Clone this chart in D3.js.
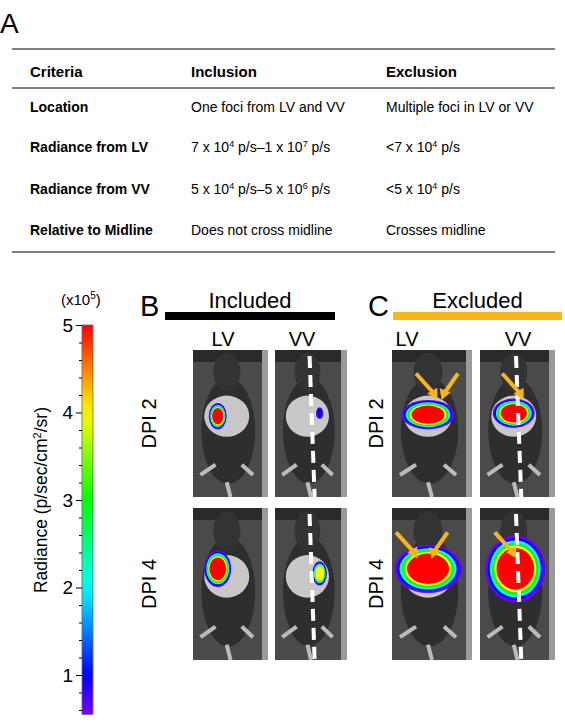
<!DOCTYPE html>
<html><head><meta charset="utf-8">
<script src="https://cdn.jsdelivr.net/npm/d3@7"></script>
<style>body{margin:0;background:#fff}svg{font-family:Arial,"Liberation Sans",sans-serif}</style>
</head><body><svg id="c" width="565" height="728"></svg>
<script>
const tableHeader = ["Criteria","Inclusion","Exclusion"];
const tableRows = [
  ["Location","One foci from LV and VV","Multiple foci in LV or VV"],
  ["Radiance from LV","7 x 10^4 p/s–1 x 10^7 p/s","<7 x 10^4 p/s"],
  ["Radiance from VV","5 x 10^4 p/s–5 x 10^6 p/s","<5 x 10^4 p/s"],
  ["Relative to Midline","Does not cross midline","Crosses midline"]
];
const colorTicks = [1,2,3,4,5];
const colorDomain = [0.55,1,2,3,4,5];
const colorRange = ["#7a00ff","#0000ff","#00ffff","#00ff00","#ffff00","#ff0000"];
const panelCols = ["LV","VV"];
const panelRows = ["DPI 2","DPI 4"];
const blobs = [
  ["B",0,0,0.33,0.45,0.12,0.09,5],
  ["B",0,1,0.62,0.43,0.05,0.04,1.1],
  ["B",1,0,0.33,0.40,0.18,0.12,5],
  ["B",1,1,0.62,0.43,0.1,0.08,4.5],
  ["C",0,0,0.45,0.44,0.33,0.1,5],
  ["C",0,1,0.45,0.43,0.28,0.1,5],
  ["C",1,0,0.45,0.40,0.42,0.16,5],
  ["C",1,1,0.47,0.40,0.4,0.22,5]
];
const arrows = [["C",0,0,[0.35,0.75]],["C",0,1,[0.35]],["C",1,0,[0.1,0.62]],["C",1,1,[0.25]]];

const svg = d3.select("#c");
svg.append("text").attr("x",0).attr("y",33).attr("font-size",28).text("A");
const tx = [30,191,386];
const tl = svg.append("g");
[49,88,252].forEach(y=>tl.append("line").attr("x1",12).attr("x2",555).attr("y1",y).attr("y2",y).attr("stroke","#000").attr("stroke-width",1));
tableHeader.forEach((h,i)=>tl.append("text").attr("x",tx[i]).attr("y",77).attr("font-size",15).attr("font-weight","bold").text(h));
const ry=[112,152,194,235];
function sup(t,s){
  const parts = s.split(/10\^(\d)/);
  parts.forEach((p,k)=>{
    if(k%2===0){ t.append("tspan").attr("dy",k>0?5:0).text(p+(k<parts.length-1?"10":"")); }
    else t.append("tspan").attr("dy",-5).attr("font-size",9).text(p);
  });
}
tableRows.forEach((r,j)=>{
  tl.append("text").attr("x",tx[0]).attr("y",ry[j]).attr("font-size",14).attr("font-weight","bold").text(r[0]);
  [1,2].forEach(i=>{const t=tl.append("text").attr("x",tx[i]).attr("y",ry[j]).attr("font-size",14); sup(t,r[i]);});
});
const cs = d3.scaleLinear().domain(colorDomain).range(colorRange);
const yC = d3.scaleLinear().domain([1,5]).range([675,325]);
const defs = svg.append("defs");
const lg = defs.append("linearGradient").attr("id","cb").attr("x1",0).attr("x2",0).attr("y1",1).attr("y2",0);
d3.range(0,1.001,0.05).forEach(f=>{const v=0.55+f*(5-0.55);lg.append("stop").attr("offset",f).attr("stop-color",cs(v));});
svg.append("rect").attr("x",82).attr("y",yC(5)).attr("width",11).attr("height",yC(0.55)-yC(5)).attr("fill","url(#cb)").attr("stroke","#666").attr("stroke-width",0.8);
const ax = svg.append("g").attr("transform","translate(82,0)").call(d3.axisLeft(yC).tickValues(colorTicks).tickFormat(d3.format("d")).tickSize(6));
ax.select(".domain").remove();
ax.selectAll("text").attr("font-size",19).attr("font-family","Arial,Liberation Sans");
svg.append("g").attr("transform","translate(82,0)").call(d3.axisLeft(yC).tickValues(d3.range(0.6,5,0.2).filter(v=>Math.abs(v-Math.round(v))>0.05)).tickFormat("").tickSize(3)).select(".domain").remove();
const xt = svg.append("text").attr("x",61).attr("y",305).attr("font-size",15);
xt.append("tspan").text("(x10");xt.append("tspan").attr("dy",-6).attr("font-size",10).text("5");xt.append("tspan").attr("dy",6).text(")");
const yl = svg.append("text").attr("transform","translate(47,500) rotate(-90)").attr("text-anchor","middle").attr("font-size",17.5);
yl.append("tspan").text("Radiance (p/sec/cm");yl.append("tspan").attr("dy",-6).attr("font-size",11).text("2");yl.append("tspan").attr("dy",6).text("/sr)");
const groups = {B:{label:"B",lx:140,title:"Included",bar:"#000",bx:[165,335],px:[193,275],pw:[75,72],colx:[223,302],rowx:163},
                C:{label:"C",lx:368,title:"Excluded",bar:"#f9b51a",bx:[393,562],px:[392,480],pw:[80,75],colx:[407,518],rowx:390}};
const py=[350,508], ph=[147,152];
Object.entries(groups).forEach(([k,g])=>{
  svg.append("text").attr("x",g.lx).attr("y",316).attr("font-size",29).text(g.label);
  svg.append("text").attr("x",(g.bx[0]+g.bx[1])/2).attr("y",308).attr("text-anchor","middle").attr("font-size",22).text(g.title);
  svg.append("rect").attr("x",g.bx[0]).attr("y",312).attr("width",g.bx[1]-g.bx[0]).attr("height",8).attr("fill",g.bar);
  panelCols.forEach((c,i)=>svg.append("text").attr("x",g.colx[i]).attr("y",346).attr("text-anchor","middle").attr("font-size",20).text(c));
  panelRows.forEach((r,j)=>svg.append("text").attr("transform",`translate(${g.rowx-7},${py[j]+ph[j]/2}) rotate(-90)`).attr("text-anchor","middle").attr("font-size",20).text(r));
  panelRows.forEach((r,j)=>panelCols.forEach((c,i)=>{
    const x=g.px[i],y=py[j],w=g.pw[i],h=ph[j];
    const p=svg.append("g").attr("transform",`translate(${x},${y})`);
    p.append("rect").attr("width",w).attr("height",h).attr("fill","#4a4a4a");
    p.append("rect").attr("width",w).attr("height",12).attr("fill","#2a2a2a");
    p.append("rect").attr("x",w-6).attr("width",6).attr("height",h).attr("fill","#9a9a9a");
    p.append("ellipse").attr("cx",w*0.47).attr("cy",h*0.55).attr("rx",w*0.36).attr("ry",h*0.36).attr("fill","#2e2e2e");
    p.append("ellipse").attr("cx",w*0.45).attr("cy",h*0.15).attr("rx",w*0.18).attr("ry",h*0.13).attr("fill","#333");
    p.append("ellipse").attr("cx",w*0.45).attr("cy",h*0.45).attr("rx",w*0.3).attr("ry",h*0.14).attr("fill","#c8c8c8");
    p.append("path").attr("d",`M${w*0.1},${h*0.85}L${w*0.3},${h*0.78}M${w*0.8},${h*0.85}L${w*0.65},${h*0.78}M${w*0.45},${h*0.9}L${w*0.5},${h}`).attr("stroke","#bbb").attr("stroke-width",4);
    const b=blobs.find(d=>d[0]===k&&d[1]===j&&d[2]===i);
    if(b){const levels=[0.6,1,2,3,4,5].filter(v=>v<=b[7]);
      levels.forEach((v,m)=>{const f=1-0.45*m/levels.length;
        p.append("ellipse").attr("cx",w*b[3]).attr("cy",h*b[4]).attr("rx",w*b[5]*f).attr("ry",h*b[6]*f).attr("fill",cs(v));});}
    if(i===1) p.append("line").attr("x1",w*0.48).attr("y1",6).attr("x2",w*0.55).attr("y2",h).attr("stroke","#fff").attr("stroke-width",4).attr("stroke-dasharray","12,7");
    const a=arrows.find(d=>d[0]===k&&d[1]===j&&d[2]===i);
    if(a) a[3].forEach(ax0=>{const sx=w*ax0,sy=h*0.16, ex=sx+(ax0>0.5?-8:14), ey=sy+20;
      p.append("line").attr("x1",ax0>0.5?sx+6:sx-4).attr("y1",sy).attr("x2",ex).attr("y2",ey).attr("stroke","#f9b51a").attr("stroke-width",4);
      p.append("path").attr("d",d3.symbol(d3.symbolTriangle,60)()).attr("transform",`translate(${ex},${ey}) rotate(${ax0>0.5?200:150})`).attr("fill","#f9b51a");});
  }));
});
</script></body></html>
